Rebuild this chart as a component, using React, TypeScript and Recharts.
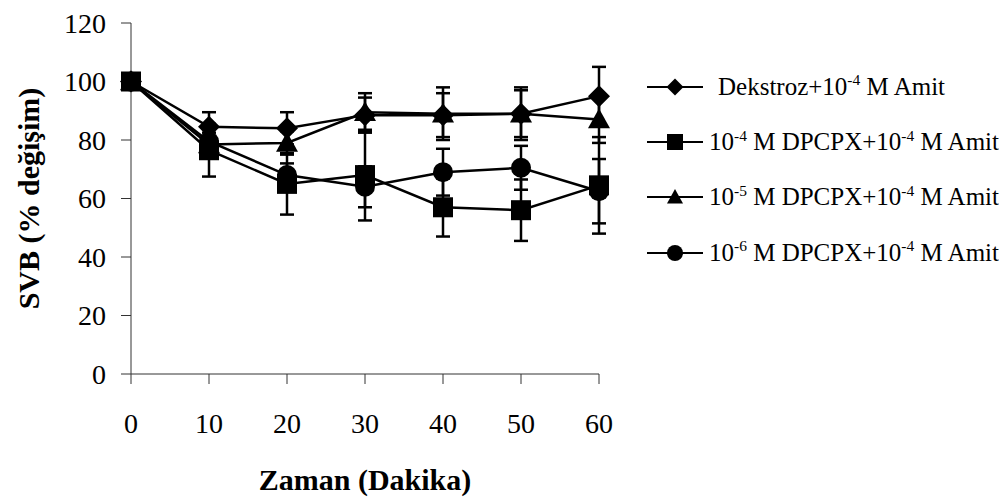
import React from 'react';
import { LineChart, Line, XAxis, YAxis, ErrorBar, Legend } from 'recharts';

// zaman (dakika)
const zaman = [0, 10, 20, 30, 40, 50, 60];

// SVB (% degisim)
const dekstroz = [100, 84.5, 84, 88.5, 88.5, 89, 95];
const dekstrozErr = [0, 5, 5.5, 6, 7.5, 8, 10];
const dpcpx4 = [100, 76.5, 65, 68, 57, 56, 64.5];
const dpcpx4Err = [0, 9, 10.5, 15.5, 10, 10.5, 16.5];
const dpcpx5 = [100, 78.5, 79, 89.5, 89, 89, 87];
const dpcpx5Err = [0, 4, 4, 6.5, 9, 9, 8];
const dpcpx6 = [100, 79.5, 68, 64, 69, 70.5, 62.5];
const dpcpx6Err = [0, 5, 4, 7, 8, 7.5, 11];

const xTicks = [0, 10, 20, 30, 40, 50, 60];
const yTicks = [0, 20, 40, 60, 80, 100, 120];

const data = zaman.map((t, i) => ({
    zaman: t,
    dek: dekstroz[i], dekErr: dekstrozErr[i],
    d4: dpcpx4[i], d4Err: dpcpx4Err[i],
    d5: dpcpx5[i], d5Err: dpcpx5Err[i],
    d6: dpcpx6[i], d6Err: dpcpx6Err[i],
}));

const FONT = "'Liberation Serif', 'Times New Roman', Times, 'Nimbus Roman', 'Noto Serif', FreeSerif, 'DejaVu Serif', serif";

type MarkProps = { cx: number, cy: number, s?: number };

const Diamond = ({ cx, cy, s = 11 }: MarkProps) => (
    <polygon points={`${cx},${cy - s} ${cx + s},${cy} ${cx},${cy + s} ${cx - s},${cy}`} fill="#000" />
);
const Square = ({ cx, cy, s = 10 }: MarkProps) => (
    <rect x={cx - s} y={cy - s} width={s * 2} height={s * 2} fill="#000" />
);
const Triangle = ({ cx, cy, s = 11 }: MarkProps) => (
    <polygon points={`${cx},${cy - s} ${cx + s},${cy + s * 0.8} ${cx - s},${cy + s * 0.8}`} fill="#000" />
);
const Circle = ({ cx, cy, s = 10 }: MarkProps) => (
    <circle cx={cx} cy={cy} r={s} fill="#000" />
);

const markers = [Diamond, Square, Triangle, Circle];

const dotFor = (Mark: React.FC<MarkProps>) => (props: any) => (
    <Mark key={`dot-${props.index}`} cx={props.cx} cy={props.cy} />
);

const Sup = ({ children }: { children: React.ReactNode }) => (
    <span style={{ fontSize: '0.62em', position: 'relative', top: '-0.6em' }}>{children}</span>
);

const legendLabels: React.ReactNode[] = [
    <span style={{ marginLeft: 9 }}>Dekstroz+10<Sup>-4</Sup> M Amit</span>,
    <span>10<Sup>-4</Sup> M DPCPX+10<Sup>-4</Sup> M Amit</span>,
    <span>10<Sup>-5</Sup> M DPCPX+10<Sup>-4</Sup> M Amit</span>,
    <span>10<Sup>-6</Sup> M DPCPX+10<Sup>-4</Sup> M Amit</span>,
];

const renderLegend = () => (
    <div style={{ fontFamily: FONT, fontSize: 25, color: '#000' }}>
        {legendLabels.map((label, i) => {
            const Mark = markers[i];
            return (
                <div key={i} style={{ display: 'flex', alignItems: 'center', height: 55.3, whiteSpace: 'nowrap' }}>
                    <svg width={56} height={22} style={{ flex: 'none' }}>
                        <line x1={0} y1={11} x2={56} y2={11} stroke="#000" strokeWidth={2} />
                        <Mark cx={28} cy={11} s={i === 0 ? 8.5 : 8} />
                    </svg>
                    <span style={{ marginLeft: 6 }}>{label}</span>
                </div>
            );
        })}
    </div>
);

const tickStyle = { fill: '#000', fontSize: 28, fontFamily: FONT };
const titleStyle = { fill: '#000', fontSize: 30, fontFamily: FONT, fontWeight: 'bold' as const };

export default function App() {
    return (
        <div style={{ width: 999, height: 495, fontFamily: FONT }}>
            <LineChart width={999} height={495} data={data} margin={{ top: 15, right: 408, left: 0, bottom: 0 }}>
                <XAxis
                    dataKey="zaman"
                    type="number"
                    domain={[0, 60]}
                    ticks={xTicks}
                    interval={0}
                    height={129}
                    tickSize={10}
                    tickMargin={29}
                    axisLine={{ stroke: '#333' }}
                    tickLine={{ stroke: '#333' }}
                    tick={tickStyle}
                    label={{ value: 'Zaman (Dakika)', position: 'insideBottom', offset: 13, style: titleStyle }}
                />
                <YAxis
                    type="number"
                    domain={[0, 120]}
                    ticks={yTicks}
                    interval={0}
                    width={123}
                    tickSize={10}
                    tickMargin={15}
                    axisLine={{ stroke: '#333' }}
                    tickLine={{ stroke: '#333' }}
                    tick={tickStyle}
                    label={{ value: 'SVB (% değişim)', angle: -90, position: 'insideLeft', offset: 20, style: { ...titleStyle, textAnchor: 'middle' } }}
                />
                <Legend
                    layout="vertical"
                    align="center"
                    verticalAlign="middle"
                    content={renderLegend}
                    wrapperStyle={{ left: 639, top: 51, width: 360 }}
                />
                <Line type="linear" dataKey="dek" stroke="#000" strokeWidth={2.5} dot={dotFor(Diamond)} activeDot={false} isAnimationActive={false}>
                    <ErrorBar dataKey="dekErr" direction="y" width={7} stroke="#000" strokeWidth={2.5} isAnimationActive={false} />
                </Line>
                <Line type="linear" dataKey="d4" stroke="#000" strokeWidth={2.5} dot={dotFor(Square)} activeDot={false} isAnimationActive={false}>
                    <ErrorBar dataKey="d4Err" direction="y" width={7} stroke="#000" strokeWidth={2.5} isAnimationActive={false} />
                </Line>
                <Line type="linear" dataKey="d5" stroke="#000" strokeWidth={2.5} dot={dotFor(Triangle)} activeDot={false} isAnimationActive={false}>
                    <ErrorBar dataKey="d5Err" direction="y" width={7} stroke="#000" strokeWidth={2.5} isAnimationActive={false} />
                </Line>
                <Line type="linear" dataKey="d6" stroke="#000" strokeWidth={2.5} dot={dotFor(Circle)} activeDot={false} isAnimationActive={false}>
                    <ErrorBar dataKey="d6Err" direction="y" width={7} stroke="#000" strokeWidth={2.5} isAnimationActive={false} />
                </Line>
            </LineChart>
        </div>
    );
}
